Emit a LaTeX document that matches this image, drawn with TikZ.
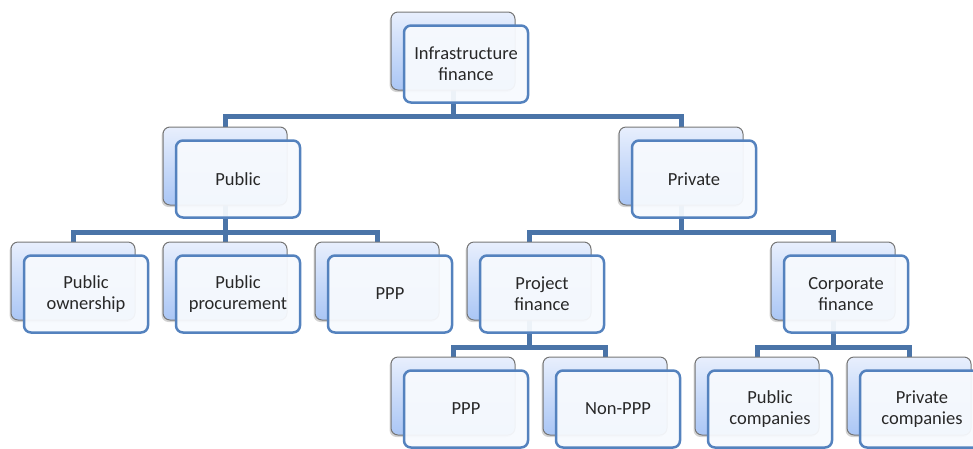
\documentclass[tikz,border=0pt]{standalone}
\usepackage{fontspec}
\setmainfont{Carlito}
\usepackage{tikz}
\usetikzlibrary{backgrounds}
\usetikzlibrary{shadows}

\definecolor{linkblue}{RGB}{74,116,168}
\definecolor{frontblue}{RGB}{84,130,190}
\definecolor{frontfill}{RGB}{247,250,254}
\definecolor{backtop}{RGB}{232,239,253}
\definecolor{backbot}{RGB}{170,198,245}
\definecolor{cardgray}{RGB}{118,118,118}
\definecolor{textgray}{RGB}{40,40,40}

\tikzset{
  backcard/.style={draw=cardgray, line width=1pt, rounded corners=7pt,
    top color=backtop, bottom color=backbot,
    minimum width=124pt, minimum height=78pt, inner sep=0pt,
    drop shadow={shadow xshift=-1.5pt, shadow yshift=-2pt, opacity=.35}},
  frontcard/.style={draw=frontblue, line width=2.5pt, rounded corners=7pt,
    fill=frontfill, fill opacity=.94, text opacity=1,
    minimum width=124pt, minimum height=77pt, inner sep=0pt,
    align=center, text=textgray, font=\fontsize{18.5}{21}\selectfont},
  link/.style={draw=linkblue, line width=5pt}
}

% back card and front card with its text
\newcommand{\orgcard}[4]{%
  \node[backcard] (#1b) at (#2,#3) {};
  \node[frontcard] (#1) at (#2+13,#3+13) {#4};
}

\begin{document}
\begin{tikzpicture}[x=1pt, y=-1pt]
  \useasboundingbox (0,0) rectangle (973,448);
  \clip (0,0) rectangle (973,448);

  \orgcard{inf}{453}{51}{Infrastructure\\finance}
  \orgcard{pub}{225}{166}{Public}
  \orgcard{pri}{681}{166}{Private}
  \orgcard{own}{73}{281}{Public\\ownership}
  \orgcard{proc}{225}{281}{Public\\procurement}
  \orgcard{ppp1}{377}{281}{PPP}
  \orgcard{proj}{529}{281}{Project\\finance}
  \orgcard{corp}{833}{281}{Corporate\\finance}
  \orgcard{ppp2}{453}{396}{PPP}
  \orgcard{nppp}{605}{396}{Non-PPP}
  \orgcard{pcom}{757}{396}{Public\\companies}
  \orgcard{prco}{909}{396}{Private\\companies}

  \begin{scope}[on background layer]
    \draw[link] (infb.center) -- ++(0,65) -| (pubb.north);
    \draw[link] (infb.center) -- ++(0,65) -| (prib.north);
    \draw[link] (pubb.center) -- ++(0,66) -| (ownb.north);
    \draw[link] (pubb.center) -- ++(0,66) -| (procb.north);
    \draw[link] (pubb.center) -- ++(0,66) -| (ppp1b.north);
    \draw[link] (prib.center) -- ++(0,66) -| (projb.north);
    \draw[link] (prib.center) -- ++(0,66) -| (corpb.north);
    \draw[link] (projb.center) -- ++(0,66) -| (ppp2b.north);
    \draw[link] (projb.center) -- ++(0,66) -| (npppb.north);
    \draw[link] (corpb.center) -- ++(0,66) -| (pcomb.north);
    \draw[link] (corpb.center) -- ++(0,66) -| (prcob.north);
  \end{scope}
\end{tikzpicture}
\end{document}
